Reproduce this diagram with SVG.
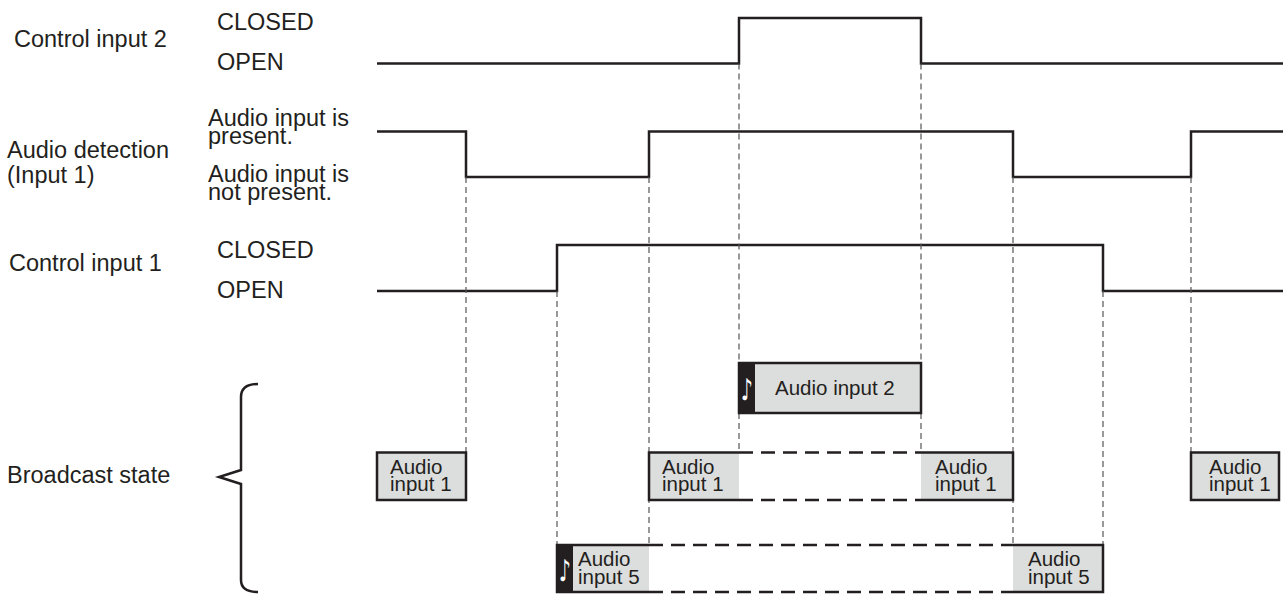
<svg xmlns="http://www.w3.org/2000/svg" width="1283" height="594" viewBox="0 0 1283 594">
<style>
text{font-family:"Liberation Sans",Arial,sans-serif;fill:#231f20}
.lbl{font-size:23.5px}
.bx{font-size:20.5px}
.sig{fill:none;stroke:#231f20;stroke-width:2.5}
.guide{fill:none;stroke:#555;stroke-width:1.2;stroke-dasharray:6 4}
.dbox{fill:none;stroke:#231f20;stroke-width:2.5;stroke-dasharray:14 8}
.box{fill:#dcdddd;stroke:#231f20;stroke-width:2.5}
.fill{fill:#dcdddd}
.edge{fill:none;stroke:#231f20;stroke-width:2.5}
.strip{fill:#231f20}
.note{font-family:"DejaVu Sans",sans-serif;font-size:30px;fill:#fff}
</style>
<rect width="1283" height="594" fill="#fff"/>
<g id="labels">
<text class="lbl" x="14" y="47">Control input 2</text>
<text class="lbl" x="217" y="30">CLOSED</text>
<text class="lbl" x="217" y="70">OPEN</text>
<text class="lbl" x="7" y="158">Audio detection</text>
<text class="lbl" x="7" y="183">(Input 1)</text>
<text class="lbl" x="208" y="126">Audio input is</text>
<text class="lbl" x="208" y="144">present.</text>
<text class="lbl" x="208" y="182">Audio input is</text>
<text class="lbl" x="208" y="200">not present.</text>
<text class="lbl" x="9" y="271">Control input 1</text>
<text class="lbl" x="217" y="258">CLOSED</text>
<text class="lbl" x="217" y="298">OPEN</text>
<text class="lbl" x="7" y="483">Broadcast state</text>
<path class="edge" d="M258,384 Q241,384 241,397 L241,470 L219,477 L241,484 L241,580 Q241,592 258,592"/>
</g>
<g id="connectors">
<path class="sig" d="M377,63.5 H739 V18 H921 V63.5 H1283"/>
<path class="sig" d="M377,131.5 H466 V177 H649 V131.5 H1013 V177 H1191 V131.5 H1283"/>
<path class="sig" d="M377,291 H557 V245 H1103 V291 H1283"/>
<path class="guide" d="M466,177 V452 M557,291 V545 M649,177 V545 M739,63.5 V363 M739,413 V452 M921,63.5 V363 M921,413 V452 M1013,177 V545 M1103,291 V545 M1191,177 V452"/>
</g>
<g id="box-ai2">
<rect class="box" x="739" y="363" width="182" height="50"/>
<rect class="strip" x="739" y="363" width="16" height="50"/>
<text class="note" transform="translate(741,400) scale(0.62,1)">♪</text>
<text class="bx" x="775" y="395">Audio input 2</text>
</g>
<g id="box-ai1-a">
<rect class="box" x="377" y="452.5" width="89" height="47.5"/>
<text class="bx" x="390" y="474">Audio</text>
<text class="bx" x="390" y="491">input 1</text>
</g>
<g id="box-ai1-b">
<rect class="fill" x="649" y="452.5" width="90" height="47.5"/>
<path class="edge" d="M739,452.5 H649 V500 H739"/>
<path class="dbox" d="M739,452.5 H921 M739,500 H921"/>
<text class="bx" x="662" y="474">Audio</text>
<text class="bx" x="662" y="491">input 1</text>
</g>
<g id="box-ai1-c">
<rect class="fill" x="921" y="452.5" width="92" height="47.5"/>
<path class="edge" d="M921,452.5 H1013 V500 H921"/>
<text class="bx" x="935" y="474">Audio</text>
<text class="bx" x="935" y="491">input 1</text>
</g>
<g id="box-ai1-d">
<rect class="box" x="1191" y="452.5" width="88" height="47.5"/>
<text class="bx" x="1209" y="474">Audio</text>
<text class="bx" x="1209" y="491">input 1</text>
</g>
<g id="box-ai5-a">
<rect class="fill" x="557" y="545" width="92" height="47"/>
<rect class="strip" x="557" y="545" width="16" height="47"/>
<path class="edge" d="M649,545 H557 V592 H649"/>
<path class="dbox" d="M649,545 H1013 M649,592 H1013"/>
<text class="note" transform="translate(559,581) scale(0.62,1)">♪</text>
<text class="bx" x="578" y="566">Audio</text>
<text class="bx" x="578" y="584">input 5</text>
</g>
<g id="box-ai5-b">
<rect class="fill" x="1013" y="545" width="90" height="47"/>
<path class="edge" d="M1013,545 H1103 V592 H1013"/>
<text class="bx" x="1028" y="566">Audio</text>
<text class="bx" x="1028" y="584">input 5</text>
</g>
</svg>
